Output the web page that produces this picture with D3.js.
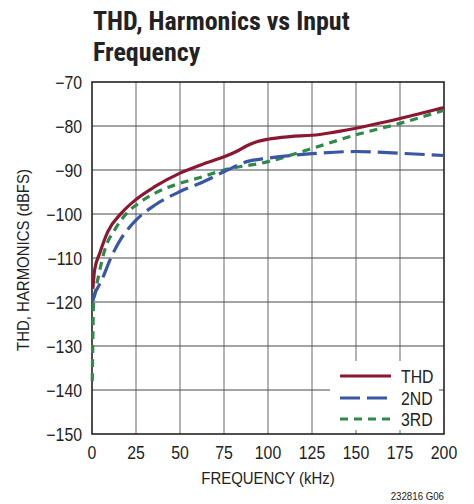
<!DOCTYPE html>
<html><head><meta charset="utf-8">
<script src="https://cdn.jsdelivr.net/npm/d3@7"></script>
<style>
body{margin:0;background:#fff;}
text{font-family:"Liberation Sans",Arial,sans-serif;}
text.title{font-family:"Liberation Sans Narrow","Arial Narrow","Roboto Condensed","Liberation Sans",sans-serif;}
</style></head>
<body><svg id="c" width="474" height="504"></svg>
<script>
const xTicks = [0,25,50,75,100,125,150,175,200];
const yTicks = [-70,-80,-90,-100,-110,-120,-130,-140,-150];
const thdFreq = [0.5,1.5,4.4,9,16.7,25,35.6,50,61.4,75,82,88,93.6,100,112.5,125,150,175,200];
const thdVal  = [-117,-112.7,-108.9,-104,-99.8,-96.7,-93.8,-90.7,-88.9,-87,-85.8,-84.5,-83.6,-83,-82.4,-82.1,-80.5,-78.3,-75.8];
const h2Freq = [0.3,1.7,3.6,5.5,11,16.7,25,35.6,50,61.4,75,88,100,125,150,175,200];
const h2Val  = [-120,-118,-116.5,-115,-109.7,-105.5,-101.4,-98,-94.9,-93,-90.4,-88.1,-87.3,-86.3,-85.8,-86.2,-86.7];
const h3Freq = [0.15,0.5,0.8,1.7,3.5,7.2,12.9,20.5,25,35.6,50,61.4,75,100,125,150,175,200];
const h3Val  = [-138,-128,-121,-118,-114.5,-108.2,-103.6,-99.5,-98,-95.3,-93,-91.7,-90,-88.1,-85.1,-82,-79.4,-76.4];
const seriesNames = ["THD","2ND","3RD"];

const svg = d3.select("#c");
const L=92,R=444,T=82,B=434;
const SX=0.88;
const x = d3.scaleLinear().domain([0,200]).range([L,R]);
const y = d3.scaleLinear().domain([-150,-70]).range([B,T]);

function txt(g,px,py,s,size,anchor,rot){
  return g.append("text")
    .attr("transform",`translate(${px},${py})${rot?" rotate(-90)":""} scale(${SX},1)`)
    .attr("text-anchor",anchor).attr("font-size",size).attr("fill","#222").text(s);
}

// grid
svg.append("g").selectAll("line").data(xTicks.slice(1,-1)).join("line")
  .attr("x1",d=>x(d)).attr("x2",d=>x(d)).attr("y1",T).attr("y2",B)
  .attr("stroke","#8a8a8a").attr("stroke-width",1.3);
svg.append("g").selectAll("line").data(yTicks.slice(1,-1)).join("line")
  .attr("y1",d=>y(d)).attr("y2",d=>y(d)).attr("x1",L).attr("x2",R)
  .attr("stroke","#4a4a4a").attr("stroke-width",1.2);

// legend background
svg.append("rect").attr("x",330).attr("y",361).attr("width",109).attr("height",69).attr("fill","#fff");

// frame
svg.append("rect").attr("x",L).attr("y",T).attr("width",R-L).attr("height",B-T)
  .attr("fill","none").attr("stroke","#222").attr("stroke-width",1.6);

const styles = [
  {f:thdFreq,v:thdVal,c:"#8c1730",dash:null},
  {f:h2Freq,v:h2Val,c:"#3a56a6",dash:"20,7"},
  {f:h3Freq,v:h3Val,c:"#2e8a48",dash:"8,6"}
];
const line = d3.line().x(d=>x(d[0])).y(d=>y(d[1])).curve(d3.curveMonotoneX);
[2,1,0].forEach(i=>{
  const s=styles[i];
  svg.append("path").datum(s.f.map((f,j)=>[f,s.v[j]]))
    .attr("d",line).attr("fill","none").attr("stroke",s.c).attr("stroke-width",3.2)
    .attr("stroke-dasharray",s.dash);
});

// legend
const ly=[376,398,419];
seriesNames.forEach((n,i)=>{
  svg.append("line").attr("x1",340).attr("x2",391).attr("y1",ly[i]).attr("y2",ly[i])
    .attr("stroke",styles[i].c).attr("stroke-width",3.2).attr("stroke-dasharray",styles[i].dash);
  txt(svg,401,ly[i]+7,n,18,"start");
});

// tick labels
yTicks.forEach(d=>txt(svg,82,y(d)+6.5,d<0?"\u2212"+Math.abs(d):String(d),18,"end"));
xTicks.forEach(d=>txt(svg,x(d),459,String(d),18,"middle"));

// axis titles
txt(svg,268,484,"FREQUENCY (kHz)",17,"middle");
txt(svg,29,260,"THD, HARMONICS (dBFS)",17,"middle",true);
txt(svg,444,500,"232816 G06",11,"end");

// title
svg.append("text").attr("class","title").attr("x",93).attr("y",30).attr("font-size",26).attr("font-weight","bold")
  .attr("fill","#222").text("THD, Harmonics vs Input");
svg.append("text").attr("class","title").attr("x",93).attr("y",61).attr("font-size",26).attr("font-weight","bold")
  .attr("fill","#222").text("Frequency");
</script></body></html>
